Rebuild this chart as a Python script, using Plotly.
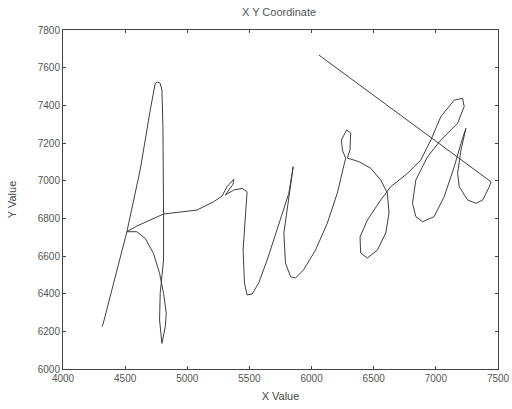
import plotly.graph_objects as go

x_values = [4315, 4323, 4514, 4621, 4702, 4742, 4760, 4782, 4796, 4804, 4809, 4809, 4782, 4777, 4796,
            4823, 4831, 4809, 4777, 4728, 4661, 4594, 4514,
            4594, 4809, 5078, 5212, 5280, 5320, 5373, 5369, 5306, 5373, 5441, 5481,
            5468, 5449, 5460, 5481, 5522, 5575, 5643, 5723, 5790, 5817, 5852,
            5817, 5777, 5790, 5831, 5871, 5935, 6032, 6127, 6207, 6274,
            6248, 6240, 6282, 6315, 6309, 6288,
            6381, 6476, 6556, 6610, 6623, 6597, 6530, 6449, 6395, 6390, 6449, 6556, 6637,
            6772, 6879, 6960, 7040, 7148, 7215, 7228, 7175, 7040, 6933, 6839, 6812, 6839,
            6893, 6986, 7067, 7148, 7202, 7242,
            7202, 7175, 7188, 7256, 7323, 7377, 7430, 7444,
            6059]
y_values = [6225, 6240, 6729, 7057, 7375, 7517, 7524, 7517, 7481, 7287, 6828, 6579, 6402, 6260, 6136,
            6225, 6296, 6402, 6508, 6614, 6694, 6729, 6729,
            6759, 6823, 6844, 6888, 6919, 6968, 7007, 6982, 6924, 6950, 6959, 6941,
            6809, 6632, 6457, 6393, 6398, 6457, 6579, 6738, 6881, 6933, 7074,
            6915, 6722, 6563, 6490, 6483, 6526, 6632, 6775, 6934, 7119,
            7163, 7216, 7269, 7253, 7163, 7120,
            7101, 7066, 7004, 6934, 6828, 6722, 6632, 6589, 6616, 6702, 6791, 6897, 6968,
            7039, 7110, 7216, 7340, 7428, 7437, 7393, 7305, 7216, 7127, 7004, 6880, 6809,
            6782, 6809, 6915, 7074, 7198, 7278,
            7163, 7039, 6968, 6897, 6880, 6897, 6968, 6994,
            7667]

x_ticks = [4000, 4500, 5000, 5500, 6000, 6500, 7000, 7500]
y_ticks = [6000, 6200, 6400, 6600, 6800, 7000, 7200, 7400, 7600, 7800]

fig = go.Figure()
fig.add_trace(go.Scatter(x=x_values, y=y_values, mode="lines",
                         line=dict(color="#404040", width=1), showlegend=False))

axis_common = dict(showgrid=False, zeroline=False, showline=True, mirror="ticks",
                   automargin=False,
                   linecolor="#444", linewidth=1, ticks="inside", ticklen=3,
                   tickcolor="#444", tickfont=dict(size=10, color="#555",
                                                   family="Liberation Sans"))
fig.update_xaxes(range=[4000, 7500], tickvals=x_ticks,
                 title=dict(text="X Value", font=dict(size=11, color="#444",
                                                      family="Liberation Sans"), standoff=9),
                 **axis_common)
fig.update_yaxes(range=[6000, 7800], tickvals=y_ticks,
                 title=dict(text="Y Value", font=dict(size=11, color="#444",
                                                      family="Liberation Sans"), standoff=18),
                 **axis_common)
fig.update_layout(
    width=512, height=409,
    margin=dict(l=63, r=14, t=30, b=40),
    paper_bgcolor="white", plot_bgcolor="white",
    title=dict(text="X Y Coordinate", x=0.545, xanchor="center", y=0.98, yanchor="top",
               font=dict(size=11, color="#555", family="Liberation Sans")),
)
fig.write_html("out.html")
